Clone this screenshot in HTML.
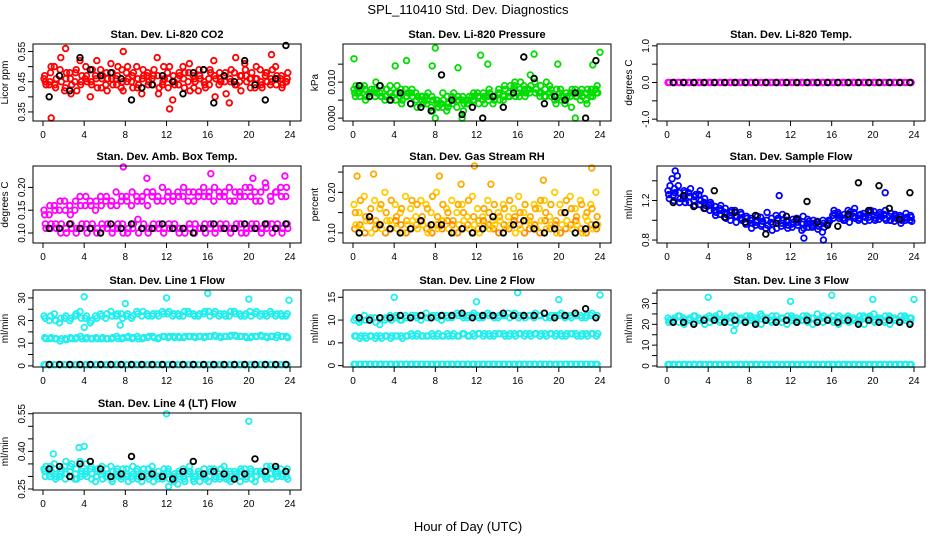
<!DOCTYPE html>
<html><head><meta charset="utf-8"><style>
html,body{margin:0;padding:0;background:#fff;}
svg{display:block;font-family:"Liberation Sans",Arial,sans-serif;}
</style></head><body>
<svg id="chart" width="936" height="540" viewBox="0 0 936 540">
<text x="468" y="14" text-anchor="middle" font-size="13">SPL_110410  Std. Dev. Diagnostics</text>
<text x="468" y="531" text-anchor="middle" font-size="13">Hour of Day (UTC)</text>
</svg>
<script>
// ---- data arrays ----
const xTicks = [0,4,8,12,16,20,24];
const co2A = [0.46,0.44,0.50,0.47,0.42,0.48,0.45,0.52,0.46,0.40,0.47,0.49,0.44,0.51,0.46,0.43,0.48,0.45,0.50,0.41,0.47,0.46,0.53,0.44,0.48,0.39,0.46,0.50,0.45,0.47,0.42,0.49,0.46,0.52,0.44,0.47,0.38,0.48,0.45,0.51,0.46,0.43,0.49,0.47,0.44,0.50,0.46,0.45];
const co2B = [0.45,0.48,0.43,0.53,0.46,0.41,0.49,0.45,0.47,0.44,0.52,0.46,0.42,0.48,0.47,0.45,0.50,0.43,0.46,0.49,0.44,0.47,0.41,0.50,0.46,0.45,0.48,0.43,0.51,0.46,0.47,0.44,0.49,0.40,0.46,0.48,0.45,0.53,0.42,0.47,0.46,0.50,0.44,0.48,0.45,0.47,0.43,0.46];
const co2C = [0.47,0.45,0.44,0.49,0.43,0.46,0.48,0.44,0.50,0.45,0.46,0.43,0.48,0.46,0.44,0.49,0.45,0.47,0.43,0.46,0.48,0.44,0.47,0.45,0.43,0.47,0.44,0.46,0.48,0.43,0.49,0.45,0.44,0.47,0.48,0.45,0.46,0.44,0.47,0.49,0.43,0.46,0.45,0.48,0.46,0.44,0.47,0.45];
const co2D = [0.44,0.50,0.46,0.45,0.48,0.44,0.42,0.47,0.45,0.49,0.43,0.47,0.46,0.44,0.50,0.42,0.46,0.48,0.44,0.47,0.45,0.49,0.43,0.46,0.50,0.44,0.47,0.48,0.42,0.45,0.46,0.43,0.48,0.46,0.45,0.41,0.49,0.44,0.47,0.45,0.48,0.46,0.43,0.45,0.49,0.46,0.44,0.48];
const co2Black = [0.40,0.47,0.42,0.53,0.49,0.47,0.48,0.46,0.39,0.43,0.44,0.47,0.45,0.41,0.48,0.49,0.38,0.47,0.45,0.52,0.44,0.39,0.46,0.57];
const co2OutH = [0.8,2.2,7.8,12.3,22.2];
const co2OutV = [0.33,0.56,0.55,0.36,0.54];

const presA = [0.008,0.007,0.009,0.006,0.008,0.007,0.005,0.009,0.007,0.006,0.008,0.004,0.007,0.005,0.006,0.003,0.005,0.004,0.002,0.006,0.003,0.005,0.004,0.006,0.007,0.005,0.006,0.004,0.007,0.005,0.006,0.008,0.007,0.009,0.008,0.011,0.007,0.006,0.009,0.005,0.007,0.004,0.006,0.008,0.005,0.007,0.006,0.008];
const presB = [0.006,0.009,0.005,0.007,0.010,0.006,0.008,0.005,0.007,0.004,0.006,0.008,0.003,0.006,0.005,0.002,0.004,0.007,0.003,0.005,0.006,0.002,0.005,0.007,0.004,0.006,0.008,0.005,0.007,0.009,0.006,0.010,0.008,0.006,0.012,0.007,0.009,0.006,0.008,0.004,0.006,0.007,0.003,0.006,0.008,0.004,0.007,0.009];
const presC = [0.007,0.006,0.008,0.007,0.006,0.009,0.006,0.007,0.005,0.008,0.006,0.007,0.005,0.006,0.004,0.006,0.005,0.003,0.006,0.004,0.005,0.006,0.004,0.005,0.006,0.007,0.005,0.006,0.008,0.006,0.007,0.009,0.006,0.008,0.007,0.010,0.006,0.008,0.007,0.006,0.008,0.005,0.007,0.006,0.007,0.005,0.008,0.007];
const presD = [0.009,0.008,0.006,0.008,0.007,0.006,0.008,0.006,0.009,0.005,0.007,0.006,0.006,0.004,0.007,0.005,0.003,0.005,0.004,0.007,0.005,0.004,0.006,0.005,0.006,0.004,0.007,0.006,0.005,0.008,0.009,0.006,0.010,0.007,0.009,0.008,0.007,0.010,0.006,0.008,0.005,0.006,0.008,0.007,0.006,0.008,0.006,0.007];
const presBlack = [0.009,0.006,0.009,0.005,0.007,0.004,0.003,0.002,0.012,0.005,0.001,0.003,0.000,0.006,0.003,0.007,0.017,0.011,0.004,0.006,0.005,0.007,0.000,0.016];
const presOutH = [0.1,4.1,5.2,7.7,8.0,10.2,12.4,13.1,17.6,19.9,23.3,24.0,8.0,10.6,21.6];
const presOutV = [0.0165,0.0145,0.016,0.0145,0.0195,0.014,0.0175,0.015,0.0178,0.015,0.0148,0.0183,0.000,0.000,0.000];

const tempA = [0,0,0,0,0,0,0,0,0,0,0,0,0,0,0,0,0,0,0,0,0,0,0,0,0,0,0,0,0,0,0,0,0,0,0,0,0,0,0,0,0,0,0,0,0,0,0,0];
const tempBlack = [0,0,0,0,0,0,0,0,0,0,0,0,0,0,0,0,0,0,0,0,0,0,0,0];

const ambA = [0.15,0.14,0.16,0.15,0.17,0.16,0.15,0.18,0.16,0.17,0.15,0.18,0.17,0.16,0.19,0.17,0.18,0.16,0.18,0.17,0.19,0.18,0.17,0.20,0.18,0.17,0.19,0.18,0.17,0.19,0.18,0.20,0.18,0.17,0.19,0.18,0.20,0.17,0.19,0.18,0.20,0.19,0.17,0.21,0.18,0.19,0.20,0.18];
const ambB = [0.12,0.11,0.12,0.10,0.11,0.12,0.10,0.11,0.12,0.11,0.10,0.12,0.11,0.10,0.11,0.12,0.10,0.11,0.13,0.11,0.10,0.12,0.11,0.10,0.12,0.11,0.10,0.11,0.12,0.10,0.11,0.12,0.11,0.10,0.12,0.11,0.10,0.11,0.12,0.10,0.11,0.12,0.10,0.11,0.12,0.11,0.10,0.12];
const ambC = [0.14,0.16,0.15,0.17,0.15,0.14,0.17,0.16,0.18,0.16,0.17,0.16,0.18,0.17,0.16,0.18,0.17,0.19,0.17,0.18,0.16,0.19,0.18,0.17,0.19,0.18,0.18,0.20,0.19,0.17,0.19,0.18,0.19,0.20,0.18,0.19,0.17,0.19,0.18,0.20,0.18,0.17,0.19,0.20,0.17,0.19,0.18,0.20];
const ambD = [0.11,0.12,0.11,0.12,0.10,0.11,0.11,0.12,0.10,0.12,0.11,0.11,0.12,0.11,0.12,0.10,0.11,0.12,0.10,0.12,0.11,0.11,0.12,0.11,0.11,0.12,0.11,0.10,0.11,0.12,0.11,0.10,0.12,0.11,0.11,0.12,0.11,0.12,0.10,0.11,0.12,0.11,0.11,0.12,0.10,0.12,0.11,0.11];
const ambBlack = [0.11,0.11,0.12,0.11,0.11,0.10,0.12,0.11,0.12,0.11,0.11,0.12,0.11,0.11,0.10,0.11,0.12,0.11,0.11,0.12,0.11,0.12,0.11,0.12];
const ambOutH = [7.8,10.1,16.3,20.4,23.5];
const ambOutV = [0.245,0.22,0.23,0.22,0.225];

const rhA = [0.11,0.12,0.10,0.13,0.11,0.12,0.10,0.11,0.13,0.12,0.10,0.11,0.12,0.13,0.11,0.10,0.12,0.11,0.13,0.12,0.10,0.11,0.12,0.10,0.11,0.13,0.12,0.11,0.10,0.12,0.11,0.13,0.12,0.10,0.11,0.12,0.10,0.13,0.11,0.12,0.10,0.11,0.12,0.13,0.11,0.10,0.12,0.11];
const rhB = [0.17,0.15,0.19,0.14,0.18,0.16,0.20,0.13,0.17,0.15,0.19,0.16,0.14,0.18,0.17,0.15,0.20,0.13,0.16,0.18,0.15,0.17,0.14,0.19,0.16,0.14,0.18,0.13,0.15,0.17,0.14,0.16,0.19,0.15,0.13,0.17,0.16,0.18,0.14,0.20,0.17,0.15,0.19,0.16,0.18,0.14,0.17,0.20];
const rhC = [0.12,0.11,0.13,0.10,0.12,0.11,0.13,0.12,0.11,0.10,0.12,0.13,0.11,0.12,0.10,0.12,0.11,0.13,0.11,0.10,0.12,0.13,0.11,0.12,0.10,0.12,0.11,0.12,0.13,0.11,0.12,0.10,0.11,0.13,0.12,0.11,0.13,0.11,0.12,0.10,0.12,0.13,0.11,0.12,0.10,0.13,0.11,0.12];
const rhD = [0.15,0.18,0.14,0.16,0.13,0.17,0.15,0.18,0.14,0.16,0.13,0.18,0.17,0.14,0.16,0.19,0.14,0.17,0.15,0.13,0.17,0.15,0.18,0.14,0.13,0.16,0.15,0.17,0.14,0.16,0.18,0.14,0.15,0.17,0.14,0.16,0.18,0.15,0.17,0.13,0.15,0.18,0.16,0.14,0.17,0.15,0.16,0.14];
const rhBlack = [0.10,0.14,0.12,0.11,0.10,0.11,0.13,0.12,0.12,0.10,0.11,0.10,0.11,0.14,0.10,0.12,0.13,0.11,0.10,0.11,0.15,0.10,0.11,0.12];
const rhOutH = [0.4,2.0,8.4,10.5,13.4,18.5,23.2,11.8];
const rhOutV = [0.24,0.245,0.24,0.22,0.22,0.23,0.26,0.265];

const flowA = [1.30,1.25,1.35,1.22,1.28,1.20,1.26,1.18,1.15,1.10,1.12,1.08,1.05,1.10,1.02,0.98,1.00,0.95,1.03,0.92,0.98,1.05,0.94,0.99,0.96,1.02,0.90,0.97,0.93,0.99,0.88,0.95,1.05,1.08,1.02,1.10,1.04,1.00,1.07,1.03,1.09,1.01,1.06,1.04,0.99,1.05,1.02,1.00];
const flowB = [1.22,1.32,1.18,1.28,1.24,1.15,1.30,1.12,1.18,1.05,1.15,1.02,1.08,0.98,1.06,1.04,0.92,1.00,0.96,1.08,0.90,1.00,1.06,0.92,1.01,0.95,1.04,0.93,1.00,0.94,0.97,1.00,1.10,1.02,1.06,0.98,1.12,1.05,0.99,1.08,1.00,1.06,1.10,1.00,1.04,0.97,1.07,1.03];
const flowC = [1.26,1.20,1.28,1.30,1.18,1.24,1.16,1.22,1.10,1.14,1.06,1.12,1.00,1.04,1.08,0.96,1.02,0.98,0.94,1.00,1.02,0.92,0.97,1.00,0.93,0.98,0.96,1.01,0.95,0.91,1.00,0.97,1.02,1.06,1.00,1.04,1.08,1.02,1.04,1.00,1.05,1.08,1.02,1.00,1.06,1.03,1.00,1.05];
const flowD = [1.35,1.28,1.22,1.18,1.32,1.26,1.20,1.15,1.16,1.08,1.10,1.06,1.10,1.04,1.00,1.02,0.97,1.04,0.99,0.95,0.96,1.02,1.00,0.95,0.98,1.00,0.92,0.99,0.97,0.96,0.93,0.99,1.07,1.04,1.00,1.08,1.02,1.06,1.03,1.10,1.02,1.04,1.00,1.07,1.02,1.00,1.03,0.99];
const flowBlack = [1.18,1.25,1.14,1.12,1.30,1.03,1.08,0.98,1.05,0.86,0.97,1.04,1.01,1.19,0.98,0.95,0.94,1.06,1.38,1.10,1.35,1.12,1.01,1.28];
const flowOutH = [0.8,1.0,0.5,10.9,13.3,15.2,21.2];
const flowOutV = [1.50,1.45,1.42,1.25,0.82,0.80,1.28];

const l1A = [22,20,23,19,21,20,22,24,21,19,22,23,21,24,22,23,22,21,24,22,23,22,23,24,23,22,23,22,24,23,22,23,24,23,22,23,22,24,23,22,24,23,22,23,24,22,23,22];
const l1A2 = [21,22,20,21,22,21,23,21,22,20,21,22,23,22,23,21,23,22,23,24,22,23,22,23,24,23,22,24,23,22,23,24,22,24,23,22,24,23,22,23,22,24,23,22,23,23,22,23];
const l1B = [12.5,12,12,11,12,12.5,12,13,12,12,12.5,12,12,12,13,12,12.5,12,13,12,12.5,13,12,13,12.5,13,13,12.5,13,13,13,12.5,13,13.5,13,13,13,13.5,13,13,12.5,13,13.5,13,13,12.5,13,13];
const l1B2 = [12,12.5,12,12,11.5,12,12.5,12,12.5,12,12,12.5,12,12.5,12,12.5,13,12.5,12,12.5,13,12.5,12.5,13,13,12.5,12.5,13,13,12.5,13,13,13,13,12.5,13,13.5,13,13,12.5,13,13,13,12.5,13,13.5,13,12.5];
const l1C = [0.5,0.5,0.5,0.5,0.5,0.5,0.5,0.5,0.5,0.5,0.5,0.5,0.5,0.5,0.5,0.5,0.5,0.5,0.5,0.5,0.5,0.5,0.5,0.5,0.5,0.5,0.5,0.5,0.5,0.5,0.5,0.5,0.5,0.5,0.5,0.5,0.5,0.5,0.5,0.5,0.5,0.5,0.5,0.5,0.5,0.5,0.5,0.5];
const l1Black = [0.6,0.6,0.6,0.6,0.6,0.6,0.6,0.6,0.6,0.6,0.6,0.6,0.6,0.6,0.6,0.6,0.6,0.6,0.6,0.6,0.6,0.6,0.6,0.6];
const l1OutH = [4,8,12,16,20,23.9,4,7.5];
const l1OutV = [30.5,27.5,30,32,29.5,29,17,18];

const l2A = [10,9.5,11,10,10.5,9,10,11,10.5,10,11,10.5,11,10,11.5,10.5,11,10,11,10.5,11.5,11,10.5,11,11,10.5,11.5,11,10.5,11,11.5,11,10.5,11,11,10.5,11,11.5,10.5,11,11,10.5,11,11.5,11,10.5,11,10.5];
const l2A2 = [10.5,10,10,10.5,9.5,10.5,10.5,10,11,10,10.5,11,10.5,11,10.5,11,10.5,11,10.5,11,11,10.5,11,11.5,10.5,11,11,10.5,11,11,10.5,11.5,11,10.5,11,11.5,11,10.5,11,11,11.5,11,10.5,11,10.5,11,11.5,11];
const l2B = [6.5,6,6.5,6.5,6,6.5,6.5,6,6.5,6.5,6.5,7,6.5,6.5,6.5,7,6.5,6.5,7,6.5,6.5,7,6.5,7,7,6.5,7,6.5,7,7,6.5,7,7,6.5,7,7,6.5,7,7,6.5,7,6.5,7,7,6.5,7,7,6.5];
const l2B2 = [6.5,6.5,6,6.5,6.5,6,6.5,6.5,6.5,6,6.5,6.5,7,6.5,6.5,6.5,7,6.5,6.5,7,6.5,7,6.5,6.5,7,7,6.5,7,7,6.5,7,6.5,7,7,6.5,7,7,6.5,7,7,6.5,7,7,6.5,7,6.5,7,7];
const l2C = [0.3,0.3,0.3,0.3,0.3,0.3,0.3,0.3,0.3,0.3,0.3,0.3,0.3,0.3,0.3,0.3,0.3,0.3,0.3,0.3,0.3,0.3,0.3,0.3,0.3,0.3,0.3,0.3,0.3,0.3,0.3,0.3,0.3,0.3,0.3,0.3,0.3,0.3,0.3,0.3,0.3,0.3,0.3,0.3,0.3,0.3,0.3,0.3];
const l2Black = [10.5,10,10.5,10.5,11,10.5,11,10.5,11,11,11.5,10.5,11,11,11.5,11,11,11,11.5,10.5,11,11.5,12.5,10.5];
const l2OutH = [4,12,16,20,24];
const l2OutV = [15,14,16,14.5,15.5];

const l3A = [23,22,24,23,22,24,23,22,24,23,25,22,23,24,23,22,24,23,25,23,22,24,23,22,24,23,22,24,23,25,23,22,24,23,22,24,23,22,24,23,25,23,22,24,23,22,24,23];
const l3A2 = [22,23,24,22,23,24,22,23,23,24,22,23,24,22,23,24,23,22,24,23,24,22,23,24,23,22,24,23,23,22,24,23,22,24,23,23,22,24,23,24,22,23,24,23,22,24,23,23];
const l3B = [21,22,21,20,22,21,22,20,21,22,21,22,21,20,22,21,22,21,20,22,21,22,21,20,22,21,22,21,20,22,21,22,21,20,22,21,22,21,20,22,21,22,21,20,22,21,22,21];
const l3C = [0.7,0.7,0.7,0.7,0.7,0.7,0.7,0.7,0.7,0.7,0.7,0.7,0.7,0.7,0.7,0.7,0.7,0.7,0.7,0.7,0.7,0.7,0.7,0.7,0.7,0.7,0.7,0.7,0.7,0.7,0.7,0.7,0.7,0.7,0.7,0.7,0.7,0.7,0.7,0.7,0.7,0.7,0.7,0.7,0.7,0.7,0.7,0.7];
const l3Black = [21,21,20,22,22,21,22,21,20,22,21,22,21,22,21,22,21,22,20,22,21,22,21,20];
const l3OutH = [4,12,16,20,24,6.5];
const l3OutV = [33,31,34,32,32,17];

const l4A = [0.33,0.31,0.35,0.30,0.34,0.32,0.29,0.36,0.31,0.33,0.28,0.32,0.30,0.34,0.31,0.29,0.33,0.30,0.32,0.28,0.31,0.34,0.30,0.29,0.32,0.30,0.27,0.33,0.31,0.29,0.32,0.30,0.28,0.33,0.31,0.34,0.29,0.32,0.30,0.33,0.31,0.28,0.32,0.30,0.34,0.31,0.33,0.32];
const l4B = [0.30,0.34,0.29,0.32,0.36,0.30,0.33,0.31,0.35,0.29,0.32,0.34,0.30,0.28,0.33,0.31,0.30,0.34,0.29,0.31,0.33,0.28,0.32,0.30,0.31,0.28,0.32,0.29,0.34,0.30,0.28,0.31,0.33,0.29,0.30,0.32,0.28,0.31,0.33,0.29,0.32,0.30,0.31,0.34,0.29,0.32,0.30,0.33];
const l4C = [0.32,0.30,0.33,0.31,0.29,0.34,0.31,0.30,0.32,0.34,0.30,0.31,0.33,0.29,0.32,0.30,0.31,0.29,0.33,0.31,0.30,0.32,0.29,0.31,0.33,0.29,0.31,0.30,0.32,0.28,0.31,0.33,0.30,0.31,0.29,0.30,0.32,0.30,0.28,0.31,0.33,0.30,0.32,0.29,0.31,0.33,0.31,0.30];
const l4D = [0.34,0.32,0.30,0.33,0.31,0.35,0.29,0.32,0.30,0.31,0.33,0.29,0.31,0.32,0.30,0.33,0.28,0.31,0.30,0.33,0.29,0.31,0.30,0.33,0.29,0.31,0.30,0.28,0.32,0.30,0.31,0.29,0.32,0.30,0.33,0.29,0.31,0.30,0.32,0.30,0.29,0.32,0.31,0.30,0.33,0.30,0.31,0.29];
const l4Black = [0.33,0.34,0.30,0.35,0.36,0.33,0.30,0.31,0.38,0.30,0.31,0.30,0.29,0.32,0.36,0.31,0.32,0.31,0.29,0.31,0.37,0.32,0.34,0.32];
const l4OutH = [12,20,4,3.5,1,12.2];
const l4OutV = [0.55,0.52,0.42,0.415,0.39,0.26];

// ---- panels ----
const RED='#ff0000',GRN='#00dd00',MAG='#ff00ff',CYN='#22eeee',BLU='#0000ff';
const panels = [
 {name:'co2',title:'Stan. Dev. Li-820 CO2',yl:'Licor ppm',col:0,row:0,ymin:0.32,ymax:0.575,ticks:[0.35,0.40,0.45,0.50,0.55],labels:['0.35','','0.45','','0.55'],series:[[co2A,RED,0],[co2B,RED,0.25],[co2C,RED,0.125],[co2D,RED,0.375]],out:[co2OutH,co2OutV,RED],black:co2Black},
 {name:'pressure',title:'Stan. Dev. Li-820 Pressure',yl:'kPa',col:1,row:0,ymin:-0.0008,ymax:0.0206,ticks:[0,0.005,0.010,0.015],labels:['0.000','','0.010',''],series:[[presA,GRN,0],[presB,GRN,0.25],[presC,GRN,0.125],[presD,GRN,0.375]],out:[presOutH,presOutV,GRN],black:presBlack},
 {name:'temp',title:'Stan. Dev. Li-820 Temp.',yl:'degrees C',col:2,row:0,ymin:-1.05,ymax:1.05,ticks:[-1,-0.5,0,0.5,1],labels:['-1.0','','0.0','','1.0'],series:[[tempA,MAG,0],[tempA,MAG,0.25]],black:tempBlack},
 {name:'amb-box-temp',title:'Stan. Dev. Amb. Box Temp.',yl:'degrees C',col:0,row:1,ymin:0.078,ymax:0.247,ticks:[0.10,0.15,0.20],labels:['0.10','0.15','0.20'],series:[[ambA,MAG,0],[ambB,MAG,0.25],[ambC,MAG,0.125],[ambD,MAG,0.375]],out:[ambOutH,ambOutV,MAG],black:ambBlack},
 {name:'gas-stream-rh',title:'Stan. Dev. Gas Stream RH',yl:'percent',col:1,row:1,ymin:0.075,ymax:0.265,ticks:[0.10,0.15,0.20,0.25],labels:['0.10','','0.20',''],series:[[rhB,'#ffcc00',0],[rhD,'#ffaa00',0.25],[rhA,'#ff8800',0.125],[rhC,'#ffcc00',0.375]],out:[rhOutH,rhOutV,'#ffaa00'],black:rhBlack},
 {name:'sample-flow',title:'Stan. Dev. Sample Flow',yl:'ml/min',col:2,row:1,ymin:0.77,ymax:1.55,ticks:[0.8,1.0,1.2,1.4],labels:['0.8','','1.2',''],series:[[flowA,BLU,0],[flowB,BLU,0.25],[flowC,BLU,0.125],[flowD,BLU,0.375]],out:[flowOutH,flowOutV,BLU],black:flowBlack},
 {name:'line1-flow',title:'Stan. Dev. Line 1 Flow',yl:'ml/min',col:0,row:2,ymin:-0.5,ymax:33.5,ticks:[0,5,10,15,20,25,30],labels:['0','','10','','20','','30'],series:[[l1A,CYN,0],[l1A2,CYN,0.25],[l1B,CYN,0.125],[l1B2,CYN,0.375],[l1C,CYN,0],[l1C,CYN,0.25]],out:[l1OutH,l1OutV,CYN],black:l1Black},
 {name:'line2-flow',title:'Stan. Dev. Line 2 Flow',yl:'ml/min',col:1,row:2,ymin:-0.3,ymax:16.6,ticks:[0,5,10,15],labels:['0','5','10','15'],series:[[l2A,CYN,0],[l2A2,CYN,0.25],[l2B,CYN,0.125],[l2B2,CYN,0.375],[l2C,CYN,0],[l2C,CYN,0.25]],out:[l2OutH,l2OutV,CYN],black:l2Black},
 {name:'line3-flow',title:'Stan. Dev. Line 3 Flow',yl:'ml/min',col:2,row:2,ymin:-0.5,ymax:36.5,ticks:[0,5,10,15,20,25,30,35],labels:['0','','10','','20','','30',''],series:[[l3A,CYN,0],[l3A2,CYN,0.25],[l3B,CYN,0.125],[l3C,CYN,0],[l3C,CYN,0.25]],out:[l3OutH,l3OutV,CYN],black:l3Black},
 {name:'line4-flow',title:'Stan. Dev. Line 4 (LT) Flow',yl:'ml/min',col:0,row:3,ymin:0.246,ymax:0.553,ticks:[0.25,0.30,0.35,0.40,0.45,0.50,0.55],labels:['0.25','','','0.40','','','0.55'],series:[[l4A,CYN,0],[l4B,CYN,0.25],[l4C,CYN,0.125],[l4D,CYN,0.375]],out:[l4OutH,l4OutV,CYN],black:l4Black}
];
const colLeft=[33,343,657], rowTop=[44,166,290,413], W=268, H=77;
const NS='http://www.w3.org/2000/svg';
const svg=document.getElementById('chart');
function mk(tag,attrs,parent){const e=document.createElementNS(NS,tag);for(const k in attrs)e.setAttribute(k,attrs[k]);(parent||svg).appendChild(e);return e;}

panels.forEach(p=>{
  const L=colLeft[p.col], T=rowTop[p.row];
  const g=mk('g',{});
  
  
  const xs=h=>L+10+h/24*247;
  const ys=v=>T+H-(v-p.ymin)/(p.ymax-p.ymin)*H;
  const pt=(h,v,c,par)=>mk('circle',{cx:xs(h).toFixed(1),cy:ys(v).toFixed(1),r:2.8,fill:'none',stroke:c,'stroke-width':1.8},par);
  const sg=mk('g',{},g);
  
  
  p.series.forEach(s=>{const arr=s[0],n=arr.length;arr.forEach((v,i)=>pt((i+0.2+s[2])*24/n,v,s[1],sg));});
  if(p.out){p.out[0].forEach((h,i)=>pt(h,p.out[1][i],p.out[2],sg));}
  const bg=mk('g',{},g);
  
  
  p.black.forEach((v,i)=>pt((i+0.6)*24/p.black.length,v,'#000',bg));
  const box=mk('rect',{x:L,y:T,width:W,height:H,fill:'none',stroke:'#000','stroke-width':1},g);
  
  
  const t=mk('text',{x:L+W/2,y:T-6,'text-anchor':'middle','font-size':11,'font-weight':'bold'},g);
  t.textContent=p.title;
  
  
  const xa=mk('g',{},g);
  
  
  mk('line',{x1:xs(0),x2:xs(24),y1:T+H,y2:T+H,stroke:'#000'},xa);
  xTicks.forEach(h=>{mk('line',{x1:xs(h),x2:xs(h),y1:T+H,y2:T+H+5,stroke:'#000'},xa);
    const tx=mk('text',{x:xs(h),y:T+H+17,'text-anchor':'middle','font-size':10},xa);tx.textContent=h;});
  const ya=mk('g',{},g);
  
  
  const t0=p.ticks[0],t1=p.ticks[p.ticks.length-1];
  mk('line',{x1:L,x2:L,y1:ys(t0),y2:ys(t1),stroke:'#000'},ya);
  p.ticks.forEach((v,i)=>{const y=ys(v);mk('line',{x1:L-5,x2:L,y1:y,y2:y,stroke:'#000'},ya);
    if(p.labels[i]){const tx=mk('text',{x:L-8,y:y,'text-anchor':'middle','font-size':10,transform:`rotate(-90 ${L-8} ${y})`},ya);tx.textContent=p.labels[i];}});
  const yl=mk('text',{x:L-25,y:T+H/2,'text-anchor':'middle','font-size':10,transform:`rotate(-90 ${L-25} ${T+H/2})`},g);
  yl.textContent=p.yl;
  
  
});
</script>
</body></html>
